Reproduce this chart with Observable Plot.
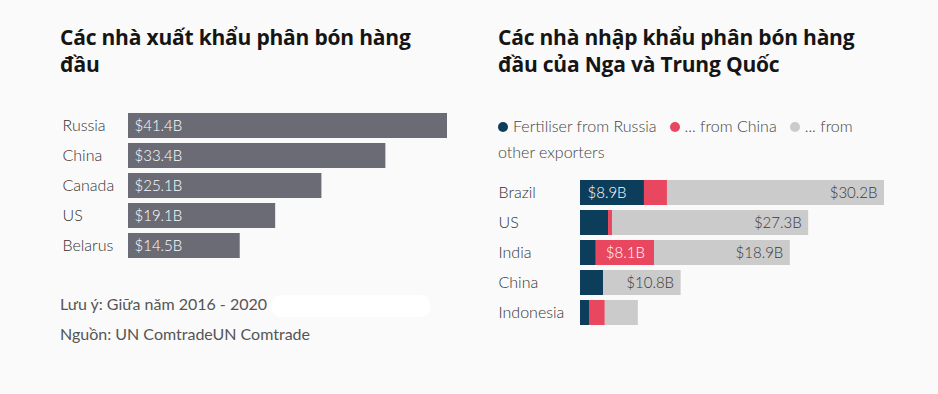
<!DOCTYPE html>
<html>
<head>
<meta charset="utf-8">
<script src="https://cdn.jsdelivr.net/npm/d3@7"></script>
<script src="https://cdn.jsdelivr.net/npm/@observablehq/plot@0.6"></script>
<style>
  html, body { margin:0; padding:0; background:#fafafa; }
  body { width:938px; height:394px; position:relative; overflow:hidden; font-family: Lato, "Open Sans", sans-serif; }
  .title { position:absolute; font-family:"Open Sans", sans-serif; font-weight:700; font-size:21px; line-height:27px; color:#151515; letter-spacing:-0.2px; }
  .legend { position:absolute; left:498px; top:113px; width:362px; font-size:16px; font-weight:300; line-height:25.5px; color:#444; }
  .legend .dot { display:inline-block; width:10px; height:10px; border-radius:50%; margin-right:5px; vertical-align:0px; }
  .legend .gap { display:inline-block; width:13px; }
  .notes { position:absolute; left:60px; top:289px; font-size:16px; line-height:30px; color:#555; }
  .blank { position:absolute; left:272px; top:295px; width:158px; height:22px; background:#fff; border-radius:9px; }
  .plot { position:absolute; top:0; }
</style>
</head>
<body>
<div class="title" id="t1" style="left:60px; top:24px; width:380px;"></div>
<div class="title" id="t2" style="left:498px; top:24px; width:380px;"></div>
<div class="legend" id="legend"></div>
<div class="notes" id="notes"></div>
<div class="blank"></div>
<div class="plot" id="left" style="left:0px;"></div>
<div class="plot" id="right" style="left:470px;"></div>
<script>
// ---- data ----
const leftTitle = "Các nhà xuất khẩu phân bón hàng đầu";
const rightTitle = "Các nhà nhập khẩu phân bón hàng đầu của Nga và Trung Quốc";
const exporters = ["Russia", "China", "Canada", "US", "Belarus"];
const exportValues = [41.4, 33.4, 25.1, 19.1, 14.5];

const importers = ["Brazil", "US", "India", "China", "Indonesia"];
const fromRussia = [8.9, 3.9, 2.2, 3.2, 1.25];
const fromChina = [3.2, 0.55, 8.1, 0, 2.2];
const fromOther = [30.2, 27.3, 18.9, 10.8, 4.6];
const labelRussia = ["$8.9B", "", "", "", ""];
const labelChina = ["", "", "$8.1B", "", ""];
const labelOther = ["$30.2B", "$27.3B", "$18.9B", "$10.8B", ""];

const sources = ["Fertiliser from Russia", "... from China", "... from other exporters"];
const sourceColors = ["#0c3d5b", "#e8475f", "#cbcbcb"];
const legendLabels = ["Fertiliser from Russia", "... from China", "... from other exporters"];

const noteText = "Lưu ý: Giữa năm 2016 - 2020";
const sourceText = "Nguồn: UN ComtradeUN Comtrade";

// ---- text ----
document.getElementById("t1").textContent = leftTitle;
document.getElementById("t2").textContent = rightTitle;
document.getElementById("notes").innerHTML = `<div>${noteText}</div><div>${sourceText}</div>`;
document.getElementById("legend").innerHTML = legendLabels.map((l, i) =>
  (i ? `<span class="gap"></span>` : "") +
  `<span class="dot" style="background:${sourceColors[i]}"></span>` +
  l.split(" ").map(w => `<span>${w}</span>`).join(" ")).join("");

const fmt = v => `$${v.toFixed(1)}B`;

// ---- left chart ----
const leftData = exporters.map((c, i) => ({country: c, value: exportValues[i]}));
const leftPlot = Plot.plot({
  width: 470, height: 394,
  marginLeft: 128, marginRight: 23, marginTop: 0, marginBottom: 0,
  style: {background: "transparent", fontFamily: "Lato, 'Open Sans', sans-serif", fontSize: "15px"},
  x: {domain: [0, 41.4], axis: null},
  y: {domain: exporters, range: [110.2, 260.2], paddingInner: 1/6, paddingOuter: 1/12, axis: null},
  marks: [
    Plot.barX(leftData, {x: "value", y: "country", fill: "#6b6b75"}),
    Plot.text(leftData, {x: 0, y: "country", text: "country", textAnchor: "start", dx: -66, fill: "#333", fontWeight: 300, fontSize: 16}),
    Plot.text(leftData, {x: 0, y: "country", text: d => fmt(d.value), textAnchor: "start", dx: 6, fill: "#fff", fontWeight: 300})
  ]
});
document.getElementById("left").appendChild(leftPlot);

// ---- right chart ----
const long = [];
importers.forEach((c, i) => {
  [fromRussia[i], fromChina[i], fromOther[i]].forEach((v, j) => long.push({country: c, source: sources[j], value: v}));
});
const rows = importers.map((c, i) => ({country: c, r: fromRussia[i], ch: fromChina[i], o: fromOther[i],
  lr: labelRussia[i], lc: labelChina[i], lo: labelOther[i]}));

const rightPlot = Plot.plot({
  width: 468, height: 394,
  marginLeft: 110, marginRight: 54, marginTop: 0, marginBottom: 0,
  style: {background: "transparent", fontFamily: "Lato, 'Open Sans', sans-serif", fontSize: "15px"},
  x: {domain: [0, 42.3], axis: null},
  y: {domain: importers, range: [177.5, 327.5], paddingInner: 1/6, paddingOuter: 1/12, axis: null},
  color: {domain: sources, range: sourceColors},
  marks: [
    Plot.barX(long, {x: "value", y: "country", fill: "source", order: sources}),
    Plot.text(rows, {x: 0, y: "country", text: "country", textAnchor: "start", dx: -82, fill: "#333", fontWeight: 300, fontSize: 16}),
    Plot.text(rows.filter(d => d.lr), {x: 0, y: "country", text: "lr", textAnchor: "start", dx: 7, fill: "#fff", fontWeight: 300}),
    Plot.text(rows.filter(d => d.lc), {x: d => d.r + d.ch / 2, y: "country", text: "lc", textAnchor: "middle", fill: "#fff", fontWeight: 300}),
    Plot.text(rows.filter(d => d.lo), {x: d => d.r + d.ch + d.o, y: "country", text: "lo", textAnchor: "end", dx: -7, fill: "#3a3a3a", fontWeight: 300})
  ]
});
document.getElementById("right").appendChild(rightPlot);
</script>
</body>
</html>
